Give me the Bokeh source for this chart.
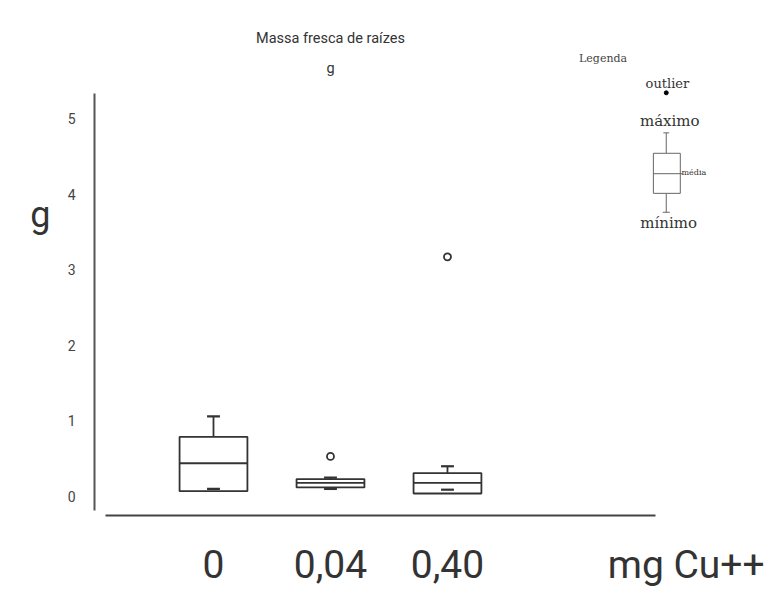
from bokeh.plotting import figure
from bokeh.models import ColumnDataSource, FixedTicker, Range1d, LinearAxis
from bokeh.core.properties import value
from bokeh.embed import file_html
from bokeh.resources import INLINE

# ---- data ----
categories = ["0", "0,04", "0,40"]
q1 = [0.07, 0.12, 0.04]
median = [0.44, 0.18, 0.18]
q3 = [0.79, 0.23, 0.31]
lower = [0.10, 0.10, 0.09]
upper = [1.06, 0.25, 0.40]
outlier_cat = ["0,04", "0,40"]
outlier_val = [0.53, 3.17]
y_ticks = [0, 1, 2, 3, 4, 5]

title_text = "Massa fresca de raízes"
unit_text = "g"
x_unit_text = "mg Cu++"

pos = [i + 1 for i in range(len(categories))]
cat_pos = dict(zip(categories, pos))
half_w = 0.29
cap_w = 0.055
y_unit_pos = 3.72
x_unit_pos = 5.04

INK = "#333333"

p = figure(width=770, height=597, output_backend="svg", toolbar_location=None,
           x_range=Range1d(-0.0171, 5.761), y_range=Range1d(-0.2513, 6.561))
p.min_border = 0
p.min_border_left = 94
p.min_border_bottom = 82
p.outline_line_color = None
p.background_fill_color = "white"
p.border_fill_color = "white"
p.xgrid.visible = False
p.ygrid.visible = False

# y axis (line + numbers)
yax = p.yaxis[0]
yax.ticker = FixedTicker(ticks=y_ticks)
yax.bounds = (-0.185, 5.33)
yax.major_tick_line_color = None
yax.minor_tick_line_color = None
yax.major_tick_out = 0
yax.axis_line_color = "#555555"
yax.axis_line_width = 2
yax.major_label_standoff = 19
yax.major_label_text_font = "Roboto"
yax.major_label_text_font_size = "14px"
yax.major_label_text_color = "#444444"

# y unit "g" (outer left axis, label only)
yunit = LinearAxis(ticker=FixedTicker(ticks=[y_unit_pos]),
                   major_label_overrides={y_unit_pos: unit_text},
                   axis_line_color=None, major_tick_line_color=None,
                   minor_tick_line_color=None, major_tick_out=0,
                   major_label_standoff=14, major_label_text_font="Roboto",
                   major_label_text_font_size="36px", major_label_text_color=INK)
p.add_layout(yunit, "left")

# x axis line (bounded)
xax = p.xaxis[0]
xax.ticker = FixedTicker(ticks=[])
xax.bounds = (0.077, 4.78)
xax.major_tick_line_color = None
xax.minor_tick_line_color = None
xax.major_tick_out = 0
xax.major_label_standoff = 0
xax.axis_line_color = "#444444"
xax.axis_line_width = 2

# x labels (categories + unit)
xlab_ticks = pos + [x_unit_pos]
xlab_text = categories + [x_unit_text]
xlab = LinearAxis(ticker=FixedTicker(ticks=xlab_ticks),
                  major_label_overrides={k: v for k, v in zip(xlab_ticks, xlab_text)},
                  axis_line_color=None, major_tick_line_color=None,
                  minor_tick_line_color=None, major_tick_out=0,
                  major_label_standoff=26, major_label_text_font="Roboto",
                  major_label_text_font_size="39px", major_label_text_color=INK)
p.add_layout(xlab, "below")

src = ColumnDataSource(dict(
    x=pos, left=[x - half_w for x in pos], right=[x + half_w for x in pos],
    cl=[x - cap_w for x in pos], cr=[x + cap_w for x in pos],
    q1=q1, med=median, q3=q3, lo=lower, up=upper))

# whiskers
p.segment(x0="x", y0="q3", x1="x", y1="up", source=src, line_color=INK, line_width=1.8)
p.segment(x0="x", y0="q1", x1="x", y1="lo", source=src, line_color=INK, line_width=1.8)
# boxes
p.quad(left="left", right="right", bottom="q1", top="q3", source=src,
       fill_color="white", line_color=INK, line_width=1.8)
p.segment(x0="left", y0="med", x1="right", y1="med", source=src, line_color=INK, line_width=1.8)
# caps
p.segment(x0="cl", y0="up", x1="cr", y1="up", source=src, line_color=INK, line_width=2.2)
p.segment(x0="cl", y0="lo", x1="cr", y1="lo", source=src, line_color=INK, line_width=2.2)
# outliers
p.scatter(x=[cat_pos[c] for c in outlier_cat], y=outlier_val, size=7,
          fill_color="white", line_color=INK, line_width=1.8)

# title
p.text(x=[2.0, 2.0], y=[6.06, 5.66], text=[title_text, unit_text],
       text_font=value("Roboto"), text_font_size="14.5px", text_color=INK,
       text_align="center", text_baseline="middle")

# legend drawing
lx = 4.87
SERIF = value("DejaVu Serif")
p.text(x=[4.33], y=[5.79], text=["Legenda"], text_font=SERIF, text_font_size="11px",
       text_color="#444444", text_align="center", text_baseline="middle")
p.text(x=[4.88], y=[5.46], text=["outlier"], text_font=SERIF, text_font_size="13px",
       text_color=INK, text_align="center", text_baseline="middle")
p.scatter(x=[lx], y=[5.34], size=4, fill_color="black", line_color="black")
p.text(x=[4.90, 4.89], y=[4.97, 3.62], text=["máximo", "mínimo"], text_font=SERIF,
       text_font_size="15px", text_color=INK, text_align="center", text_baseline="middle")
p.segment(x0=[lx, lx], y0=[4.54, 4.01], x1=[lx, lx], y1=[4.81, 3.76], line_color="#666666", line_width=1)
p.segment(x0=[lx - 0.025, lx - 0.03], y0=[4.81, 3.76], x1=[lx + 0.025, lx + 0.03], y1=[4.81, 3.76],
          line_color="#666666", line_width=1)
p.quad(left=[4.76], right=[4.99], bottom=[4.01], top=[4.54], fill_color="white",
       line_color="#666666", line_width=1)
p.segment(x0=[4.76], y0=[4.27], x1=[5.01], y1=[4.27], line_color="#666666", line_width=1)
p.text(x=[5.0], y=[4.29], text=["média"], text_font=SERIF, text_font_size="8px",
       text_color=INK, text_align="left", text_baseline="middle")

open("out.html", "w").write(file_html(p, INLINE))
